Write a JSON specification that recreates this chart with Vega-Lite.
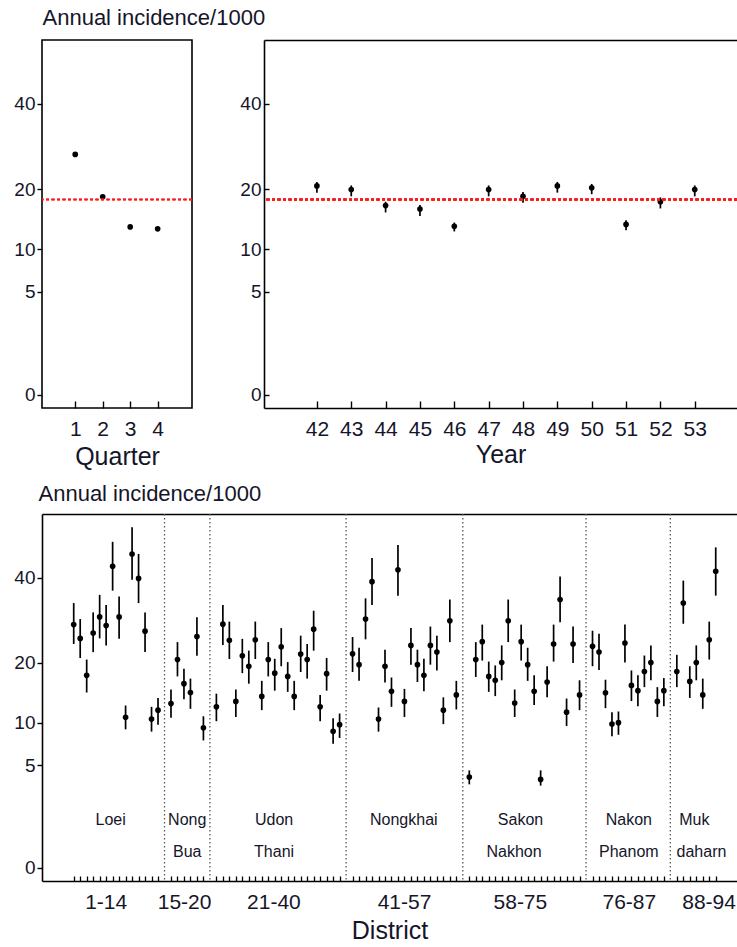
{
  "$schema": "https://vega.github.io/schema/vega-lite/v6.json",
  "background": "white",
  "padding": {"left": 13, "top": 5, "right": 0, "bottom": 0},
  "config": {
    "font": "Liberation Sans",
    "view": {"stroke": null},
    "axis": {"grid": false, "labelColor": "#15152a", "titleColor": "#15152a", "titleFontWeight": "normal", "domainColor": "black", "domainWidth": 1.6, "tickColor": "black", "tickWidth": 1.4, "labelFlush": false},
    "concat": {"spacing": 0}
  },
  "datasets": {
    "quarter": [
      {"q": 1, "v": 27.3, "lo": 26.9, "hi": 27.7},
      {"q": 2, "v": 18.5, "lo": 18.1, "hi": 18.9},
      {"q": 3, "v": 13.3, "lo": 13.0, "hi": 13.6},
      {"q": 4, "v": 13.0, "lo": 12.7, "hi": 13.3}
    ],
    "year": [
      {"yr": 42, "v": 20.6, "lo": 19.3, "hi": 21.4},
      {"yr": 43, "v": 19.9, "lo": 18.6, "hi": 20.7},
      {"yr": 44, "v": 16.9, "lo": 15.7, "hi": 17.6},
      {"yr": 45, "v": 16.3, "lo": 15.1, "hi": 17.0},
      {"yr": 46, "v": 13.4, "lo": 12.6, "hi": 14.0},
      {"yr": 47, "v": 19.9, "lo": 18.6, "hi": 20.7},
      {"yr": 48, "v": 18.6, "lo": 17.4, "hi": 19.4},
      {"yr": 49, "v": 20.6, "lo": 19.3, "hi": 21.4},
      {"yr": 50, "v": 20.25, "lo": 19.0, "hi": 21.0},
      {"yr": 51, "v": 13.7, "lo": 12.8, "hi": 14.4},
      {"yr": 52, "v": 17.6, "lo": 16.4, "hi": 18.4},
      {"yr": 53, "v": 19.9, "lo": 18.6, "hi": 20.7}
    ],
    "district": [
      {"d": 1, "g": 0, "v": 28.1, "lo": 23.8, "hi": 33.3},
      {"d": 2, "g": 0, "v": 25.0, "lo": 20.9, "hi": 29.4},
      {"d": 3, "g": 0, "v": 17.6, "lo": 14.6, "hi": 20.6},
      {"d": 4, "g": 0, "v": 26.2, "lo": 22.1, "hi": 31.0},
      {"d": 5, "g": 0, "v": 29.9, "lo": 25.0, "hi": 35.4},
      {"d": 6, "g": 0, "v": 27.9, "lo": 23.5, "hi": 32.8},
      {"d": 7, "g": 0, "v": 43.2, "lo": 36.5, "hi": 50.5},
      {"d": 8, "g": 0, "v": 29.9, "lo": 24.9, "hi": 35.0},
      {"d": 9, "g": 0, "v": 10.75, "lo": 9.1, "hi": 12.5},
      {"d": 10, "g": 0, "v": 46.8, "lo": 39.4, "hi": 55.1},
      {"d": 11, "g": 0, "v": 39.8, "lo": 33.3, "hi": 46.8},
      {"d": 12, "g": 0, "v": 26.6, "lo": 22.1, "hi": 31.0},
      {"d": 13, "g": 0, "v": 10.5, "lo": 8.8, "hi": 12.3},
      {"d": 14, "g": 0, "v": 11.8, "lo": 9.7, "hi": 13.7},
      {"d": 15, "g": 1, "v": 12.8, "lo": 10.7, "hi": 15.1},
      {"d": 16, "g": 1, "v": 20.6, "lo": 17.4, "hi": 24.2},
      {"d": 17, "g": 1, "v": 16.1, "lo": 13.5, "hi": 18.8},
      {"d": 18, "g": 1, "v": 14.6, "lo": 12.0, "hi": 17.0},
      {"d": 19, "g": 1, "v": 25.4, "lo": 21.35, "hi": 29.8},
      {"d": 20, "g": 1, "v": 9.3, "lo": 7.7, "hi": 10.9},
      {"d": 21, "g": 2, "v": 12.3, "lo": 10.2, "hi": 14.4},
      {"d": 22, "g": 2, "v": 28.2, "lo": 23.6, "hi": 32.8},
      {"d": 23, "g": 2, "v": 24.6, "lo": 20.7, "hi": 28.8},
      {"d": 24, "g": 2, "v": 13.15, "lo": 10.8, "hi": 15.1},
      {"d": 25, "g": 2, "v": 21.35, "lo": 18.0, "hi": 24.9},
      {"d": 26, "g": 2, "v": 19.3, "lo": 16.1, "hi": 22.4},
      {"d": 27, "g": 2, "v": 24.7, "lo": 20.7, "hi": 28.8},
      {"d": 28, "g": 2, "v": 13.95, "lo": 11.8, "hi": 16.6},
      {"d": 29, "g": 2, "v": 20.6, "lo": 17.4, "hi": 24.2},
      {"d": 30, "g": 2, "v": 18.0, "lo": 14.9, "hi": 20.75},
      {"d": 31, "g": 2, "v": 23.2, "lo": 19.3, "hi": 27.3},
      {"d": 32, "g": 2, "v": 17.4, "lo": 14.7, "hi": 20.1},
      {"d": 33, "g": 2, "v": 13.95, "lo": 11.8, "hi": 16.6},
      {"d": 34, "g": 2, "v": 21.7, "lo": 18.2, "hi": 25.6},
      {"d": 35, "g": 2, "v": 20.6, "lo": 17.0, "hi": 23.8},
      {"d": 36, "g": 2, "v": 27.05, "lo": 22.4, "hi": 31.4},
      {"d": 37, "g": 2, "v": 12.3, "lo": 10.2, "hi": 14.2},
      {"d": 38, "g": 2, "v": 17.9, "lo": 14.9, "hi": 20.9},
      {"d": 39, "g": 2, "v": 8.84, "lo": 7.3, "hi": 10.6},
      {"d": 40, "g": 2, "v": 9.73, "lo": 8.0, "hi": 11.3},
      {"d": 41, "g": 3, "v": 21.75, "lo": 18.2, "hi": 25.3},
      {"d": 42, "g": 3, "v": 19.6, "lo": 16.6, "hi": 23.0},
      {"d": 43, "g": 3, "v": 29.4, "lo": 24.8, "hi": 34.5},
      {"d": 44, "g": 3, "v": 38.9, "lo": 32.8, "hi": 45.6},
      {"d": 45, "g": 3, "v": 10.5, "lo": 8.8, "hi": 12.2},
      {"d": 46, "g": 3, "v": 19.3, "lo": 16.3, "hi": 22.6},
      {"d": 47, "g": 3, "v": 14.8, "lo": 12.3, "hi": 17.2},
      {"d": 48, "g": 3, "v": 42.2, "lo": 35.2, "hi": 49.5},
      {"d": 49, "g": 3, "v": 13.15, "lo": 10.8, "hi": 15.2},
      {"d": 50, "g": 3, "v": 23.5, "lo": 19.6, "hi": 27.3},
      {"d": 51, "g": 3, "v": 19.6, "lo": 16.4, "hi": 22.6},
      {"d": 52, "g": 3, "v": 17.6, "lo": 14.8, "hi": 20.75},
      {"d": 53, "g": 3, "v": 23.5, "lo": 19.6, "hi": 27.65},
      {"d": 54, "g": 3, "v": 22.1, "lo": 18.5, "hi": 25.6},
      {"d": 55, "g": 3, "v": 11.8, "lo": 9.8, "hi": 13.8},
      {"d": 56, "g": 3, "v": 29.0, "lo": 24.2, "hi": 34.2},
      {"d": 57, "g": 3, "v": 14.2, "lo": 11.9, "hi": 16.6},
      {"d": 58, "g": 4, "v": 3.9, "lo": 3.3, "hi": 4.5},
      {"d": 59, "g": 4, "v": 20.6, "lo": 17.3, "hi": 24.2},
      {"d": 60, "g": 4, "v": 24.3, "lo": 20.4, "hi": 28.1},
      {"d": 61, "g": 4, "v": 17.4, "lo": 14.7, "hi": 20.2},
      {"d": 62, "g": 4, "v": 16.7, "lo": 14.0, "hi": 19.45},
      {"d": 63, "g": 4, "v": 20.0, "lo": 16.7, "hi": 23.5},
      {"d": 64, "g": 4, "v": 29.0, "lo": 24.2, "hi": 34.2},
      {"d": 65, "g": 4, "v": 12.9, "lo": 10.8, "hi": 15.1},
      {"d": 66, "g": 4, "v": 24.3, "lo": 20.4, "hi": 28.1},
      {"d": 67, "g": 4, "v": 19.6, "lo": 16.6, "hi": 23.0},
      {"d": 68, "g": 4, "v": 14.8, "lo": 12.6, "hi": 17.6},
      {"d": 69, "g": 4, "v": 3.7, "lo": 3.2, "hi": 4.5},
      {"d": 70, "g": 4, "v": 16.4, "lo": 13.8, "hi": 19.3},
      {"d": 71, "g": 4, "v": 23.8, "lo": 20.2, "hi": 28.1},
      {"d": 72, "g": 4, "v": 34.2, "lo": 28.65, "hi": 40.3},
      {"d": 73, "g": 4, "v": 11.5, "lo": 9.55, "hi": 13.6},
      {"d": 74, "g": 4, "v": 23.8, "lo": 19.9, "hi": 27.65},
      {"d": 75, "g": 4, "v": 14.2, "lo": 11.8, "hi": 16.7},
      {"d": 76, "g": 5, "v": 23.3, "lo": 19.3, "hi": 26.7},
      {"d": 77, "g": 5, "v": 22.1, "lo": 18.6, "hi": 26.0},
      {"d": 78, "g": 5, "v": 14.55, "lo": 12.1, "hi": 16.8},
      {"d": 79, "g": 5, "v": 9.8, "lo": 8.2, "hi": 11.5},
      {"d": 80, "g": 5, "v": 10.0, "lo": 8.4, "hi": 11.6},
      {"d": 81, "g": 5, "v": 24.0, "lo": 20.0, "hi": 28.1},
      {"d": 82, "g": 5, "v": 15.8, "lo": 13.2, "hi": 18.5},
      {"d": 83, "g": 5, "v": 14.9, "lo": 12.4, "hi": 17.6},
      {"d": 84, "g": 5, "v": 18.3, "lo": 15.5, "hi": 21.4},
      {"d": 85, "g": 5, "v": 20.0, "lo": 16.7, "hi": 23.5},
      {"d": 86, "g": 5, "v": 13.15, "lo": 10.8, "hi": 15.5},
      {"d": 87, "g": 5, "v": 14.9, "lo": 12.4, "hi": 17.1},
      {"d": 88, "g": 6, "v": 18.3, "lo": 15.5, "hi": 21.55},
      {"d": 89, "g": 6, "v": 33.3, "lo": 28.3, "hi": 39.2},
      {"d": 90, "g": 6, "v": 16.5, "lo": 13.7, "hi": 19.3},
      {"d": 91, "g": 6, "v": 20.0, "lo": 16.7, "hi": 23.5},
      {"d": 92, "g": 6, "v": 14.2, "lo": 12.0, "hi": 17.0},
      {"d": 93, "g": 6, "v": 24.7, "lo": 20.6, "hi": 28.8},
      {"d": 94, "g": 6, "v": 41.8, "lo": 35.2, "hi": 48.8}
    ],
    "sep": [{"at": 15}, {"at": 22}, {"at": 43}, {"at": 61}, {"at": 80}, {"at": 93}],
    "prov": [
      {"t": "Loei", "at": 6.7, "lv": 1.08},
      {"t": "Nong", "at": 18.5, "lv": 1.08},
      {"t": "Bua", "at": 18.5, "lv": 0.11},
      {"t": "Udon", "at": 31.9, "lv": 1.08},
      {"t": "Thani", "at": 31.9, "lv": 0.11},
      {"t": "Nongkhai", "at": 51.9, "lv": 1.1},
      {"t": "Sakon", "at": 69.9, "lv": 1.08},
      {"t": "Nakhon", "at": 68.9, "lv": 0.11},
      {"t": "Nakon", "at": 86.6, "lv": 1.08},
      {"t": "Phanom", "at": 86.6, "lv": 0.11},
      {"t": "Muk", "at": 96.7, "lv": 1.08},
      {"t": "daharn", "at": 97.8, "lv": 0.11}
    ]
  },
  "vconcat": [
    {
      "hconcat": [
        {
          "width": 150,
          "height": 368,
          "view": {"stroke": "black", "strokeWidth": 1.6},
          "data": {"name": "quarter"},
          "layer": [
            {
              "mark": {"type": "rule", "color": "black", "strokeWidth": 1.7},
              "encoding": {
                "x": {"field": "q", "type": "quantitative"},
                "y": {"field": "lo", "type": "quantitative"},
                "y2": {"field": "hi"}
              }
            },
            {
              "mark": {"type": "circle", "color": "black", "opacity": 1, "size": 32},
              "encoding": {
                "x": {"field": "q", "type": "quantitative", "scale": {"domain": [-0.21, 5.25], "nice": false, "zero": false},
                  "axis": {"values": [1, 2, 3, 4], "domain": false, "tickSize": -7, "labelPadding": 17, "labelFontSize": 21, "labelBaseline": "top", "title": "Quarter", "titleFontSize": 25, "titleBaseline": "alphabetic", "titleY": 56}},
                "y": {"field": "v", "type": "quantitative", "scale": {"type": "sqrt", "domain": [-0.085, 59.5], "nice": false, "zero": false},
                  "axis": {"values": [0, 5, 10, 20, 40], "domain": false, "tickSize": 5, "labelPadding": 2, "labelFontSize": 19, "title": "Annual incidence/1000", "titleFontSize": 22, "titleAngle": 0, "titleAlign": "left", "titleBaseline": "alphabetic", "titleX": 0, "titleY": -16}}
              }
            },
            {
              "mark": {"type": "rule", "color": "#ff1a1a", "strokeWidth": 1.6, "strokeDash": [3, 2.5]},
              "encoding": {"y": {"datum": 18}}
            }
          ]
        },
        {
          "width": 473,
          "height": 368,
          "data": {"name": "year"},
          "resolve": {"axis": {"x": "independent"}},
          "layer": [
            {
              "mark": {"type": "rule", "color": "black", "strokeWidth": 1.7},
              "encoding": {
                "x": {"field": "yr", "type": "quantitative", "axis": {"orient": "top", "domain": true, "ticks": false, "labels": false, "title": null}},
                "y": {"field": "lo", "type": "quantitative"},
                "y2": {"field": "hi"}
              }
            },
            {
              "mark": {"type": "circle", "color": "black", "opacity": 1, "size": 32},
              "encoding": {
                "x": {"field": "yr", "type": "quantitative", "scale": {"domain": [40.46, 54.23], "nice": false, "zero": false},
                  "axis": {"values": [42, 43, 44, 45, 46, 47, 48, 49, 50, 51, 52, 53], "domain": true, "tickSize": -7, "labelPadding": 17, "labelFontSize": 21, "labelBaseline": "top", "title": "Year", "titleFontSize": 25, "titleBaseline": "alphabetic", "titleY": 54}},
                "y": {"field": "v", "type": "quantitative", "scale": {"type": "sqrt", "domain": [-0.085, 59.5], "nice": false, "zero": false},
                  "axis": {"values": [0, 5, 10, 20, 40], "domain": true, "tickSize": -5, "labelPadding": 8, "labelFontSize": 19, "title": null}}
              }
            },
            {
              "mark": {"type": "rule", "color": "#ff1a1a", "strokeWidth": 1.6, "strokeDash": [3, 2.5]},
              "encoding": {"y": {"datum": 18}}
            }
          ]
        }
      ],
      "spacing": 72,
      "bounds": "flush"
    },
    {
      "width": 695,
      "height": 367,
      "resolve": {"axis": {"x": "independent"}},
      "layer": [
        {
          "data": {"name": "sep"},
          "mark": {"type": "rule", "color": "#555555", "strokeWidth": 1.3, "strokeDash": [1.5, 2.5]},
          "encoding": {
            "x": {"field": "at", "type": "quantitative", "axis": {"orient": "top", "domain": true, "ticks": false, "labels": false, "title": null}}
          }
        },
        {
          "data": {"name": "district"},
          "transform": [{"calculate": "datum.d + datum.g", "as": "slot"}],
          "mark": {"type": "rule", "color": "black", "strokeWidth": 1.7},
          "encoding": {
            "x": {"field": "slot", "type": "quantitative", "axis": null},
            "y": {"field": "lo", "type": "quantitative"},
            "y2": {"field": "hi"}
          }
        },
        {
          "data": {"name": "district"},
          "transform": [{"calculate": "datum.d + datum.g", "as": "slot"}],
          "mark": {"type": "circle", "color": "black", "opacity": 1, "size": 32},
          "encoding": {
            "x": {"field": "slot", "type": "quantitative", "scale": {"domain": [-3.89, 103.28], "nice": false, "zero": false},
              "axis": {
                "values": [1, 2, 3, 4, 5, 5.93, 6, 7, 8, 9, 10, 11, 12, 13, 14, 16, 17, 18, 18.02, 19, 20, 21, 23, 24, 25, 26, 27, 28, 29, 30, 31, 31.8, 32, 33, 34, 35, 36, 37, 38, 39, 40, 41, 42, 44, 45, 46, 47, 48, 49, 50, 51, 51.93, 52, 53, 54, 55, 56, 57, 58, 59, 60, 62, 63, 64, 65, 66, 67, 68, 69, 69.8, 70, 71, 72, 73, 74, 75, 76, 77, 78, 79, 81, 82, 83, 84, 85, 86, 86.6, 87, 88, 89, 90, 91, 92, 94, 95, 96, 97, 98, 98.9, 99, 100],
                "labelExpr": "datum.value == 5.93 ? '1-14' : datum.value == 18.02 ? '15-20' : datum.value == 31.8 ? '21-40' : datum.value == 51.93 ? '41-57' : datum.value == 69.8 ? '58-75' : datum.value == 86.6 ? '76-87' : datum.value == 98.9 ? '88-94' : ''",
                "tickOpacity": {"condition": {"test": "datum.value % 1 != 0", "value": 0}, "value": 1},
                "labelOverlap": false,
                "domain": true, "tickSize": -5, "tickWidth": 1.3, "labelPadding": 15.5, "labelFontSize": 21, "labelBaseline": "top",
                "title": "District", "titleFontSize": 25, "titleBaseline": "alphabetic", "titleY": 57.5}},
            "y": {"field": "v", "type": "quantitative", "scale": {"type": "sqrt", "domain": [-0.085, 59.5], "nice": false, "zero": false},
              "axis": {"values": [0, 5, 10, 20, 40], "domain": true, "tickSize": 5, "labelPadding": 2, "labelFontSize": 19, "title": "Annual incidence/1000", "titleFontSize": 22, "titleAngle": 0, "titleAlign": "left", "titleBaseline": "alphabetic", "titleX": -4, "titleY": -14}}
          }
        },
        {
          "mark": {"type": "rule", "color": "#ff1a1a", "strokeWidth": 1.6, "strokeDash": [3, 2.5]},
          "encoding": {"y": {"datum": 18}}
        },
        {
          "data": {"name": "prov"},
          "mark": {"type": "text", "fontSize": 16, "color": "#15152a", "baseline": "middle", "align": "center"},
          "encoding": {
            "x": {"field": "at", "type": "quantitative", "axis": null},
            "y": {"field": "lv", "type": "quantitative"},
            "text": {"field": "t"}
          }
        }
      ]
    }
  ],
  "spacing": 12
}
